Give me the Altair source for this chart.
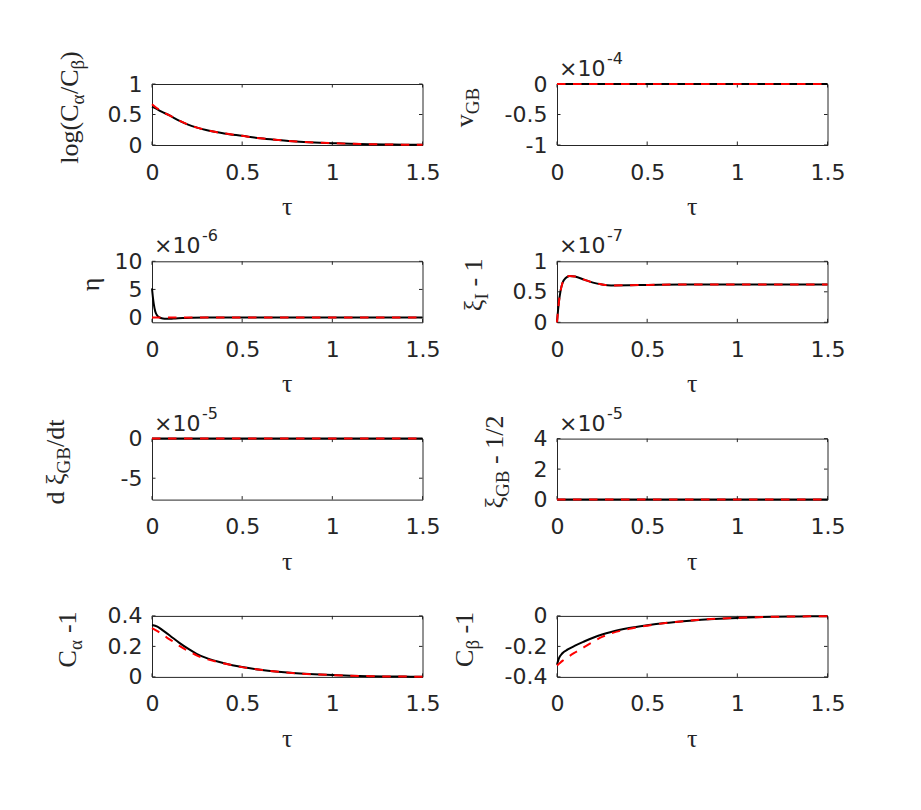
import altair as alt
import pandas as pd

# ---------------- data ----------------
x_ticks = [0, 0.5, 1, 1.5]

# panel 1: log(C_alpha / C_beta)
tau_p1 = [0, 0.02, 0.05, 0.1, 0.15, 0.2, 0.25, 0.3, 0.4, 0.5, 0.6, 0.7, 0.8, 0.9, 1.0, 1.1, 1.2, 1.3, 1.4, 1.5]
p1_black = [0.63, 0.60, 0.55, 0.48, 0.40, 0.335, 0.285, 0.245, 0.19, 0.15, 0.11, 0.082, 0.058, 0.042, 0.03, 0.02, 0.013, 0.008, 0.005, 0.003]
p1_red = [0.67, 0.62, 0.56, 0.48, 0.40, 0.335, 0.285, 0.245, 0.19, 0.15, 0.11, 0.082, 0.058, 0.042, 0.03, 0.02, 0.013, 0.008, 0.005, 0.003]

# panel 2: v_GB (x1e-4)
tau_p2 = [0, 1.5]
p2_black = [0, 0]
p2_red = [0, 0]

# panel 3: eta (x1e-6)
tau_p3 = [0, 0.005, 0.01, 0.018, 0.026, 0.04, 0.06, 0.08, 0.1, 0.13, 0.17, 0.22, 0.3, 0.5, 1.0, 1.5]
p3_black = [5.2, 3.6, 2.4, 1.1, 0.5, 0.05, -0.15, -0.2, -0.2, -0.15, -0.08, -0.03, 0, 0, 0, 0]
tau_p3r = [0, 1.5]
p3_red = [0, 0]

# panel 4: xi_I - 1 (x1e-7)
tau_p4 = [0, 0.01, 0.02, 0.03, 0.05, 0.07, 0.1, 0.15, 0.2, 0.25, 0.3, 0.4, 0.5, 0.7, 1.0, 1.5]
p4_black = [0, 0.32, 0.52, 0.64, 0.73, 0.76, 0.75, 0.70, 0.65, 0.62, 0.605, 0.607, 0.613, 0.62, 0.62, 0.62]
p4_red = [0, 0.32, 0.52, 0.64, 0.73, 0.76, 0.75, 0.70, 0.65, 0.62, 0.605, 0.607, 0.613, 0.62, 0.62, 0.62]

# panel 5: d xi_GB / dt (x1e-5)
tau_p5 = [0, 1.5]
p5_black = [0, 0]
p5_red = [0, 0]

# panel 6: xi_GB - 1/2 (x1e-5)
tau_p6 = [0, 1.5]
p6_black = [0, 0]
p6_red = [0, 0]

# panel 7: C_alpha - 1
tau_p7 = [0, 0.03, 0.06, 0.1, 0.15, 0.2, 0.25, 0.3, 0.4, 0.5, 0.6, 0.7, 0.8, 0.9, 1.0, 1.1, 1.2, 1.3, 1.4, 1.5]
p7_black = [0.34, 0.33, 0.305, 0.27, 0.225, 0.185, 0.15, 0.125, 0.09, 0.065, 0.047, 0.034, 0.024, 0.017, 0.012, 0.008, 0.005, 0.003, 0.002, 0.001]
p7_red = [0.32, 0.30, 0.275, 0.245, 0.205, 0.17, 0.14, 0.118, 0.088, 0.064, 0.047, 0.034, 0.024, 0.017, 0.012, 0.008, 0.005, 0.003, 0.002, 0.001]

# panel 8: C_beta - 1
tau_p8 = [0, 0.01, 0.03, 0.06, 0.1, 0.15, 0.2, 0.25, 0.3, 0.4, 0.5, 0.6, 0.7, 0.8, 0.9, 1.0, 1.1, 1.2, 1.3, 1.4, 1.5]
p8_black = [-0.32, -0.28, -0.245, -0.22, -0.195, -0.168, -0.143, -0.122, -0.105, -0.08, -0.062, -0.047, -0.035, -0.025, -0.018, -0.013, -0.009, -0.006, -0.004, -0.003, -0.002]
p8_red = [-0.325, -0.315, -0.295, -0.27, -0.24, -0.205, -0.17, -0.138, -0.115, -0.085, -0.064, -0.047, -0.035, -0.025, -0.018, -0.013, -0.009, -0.006, -0.004, -0.003, -0.002]

# y-axis label pieces: (text, is_subscript)
t1 = [("log(C", 0), ("α", 1), ("/C", 0), ("β", 1), (")", 0)]
t2 = [("v", 0), ("GB", 1)]
t3 = [("η", 0)]
t4 = [("ξ", 0), ("I", 1), (" - 1", 0)]
t5 = [("d ξ", 0), ("GB", 1), ("/dt", 0)]
t6 = [("ξ", 0), ("GB", 1), (" - 1/2", 0)]
t7 = [("C", 0), ("α", 1), (" -1", 0)]
t8 = [("C", 0), ("β", 1), (" -1", 0)]

# ---------------- style ----------------
INK = "#262626"
FONT_TICK = "DejaVu Sans"
FONT_TEX = "Liberation Serif"
W, H = 270.5, 61
TL = 3.5
TEX_SIZE, SUB_SIZE, SUB_DY = 26, 19, 6

WIDTHS = {'l': .278, 'o': .5, 'g': .5, '(': .333, ')': .333, 'C': .667, '/': .278,
          ' ': .25, 'v': .5, 'G': .722, 'B': .667, 'd': .5, 't': .278, '-': .333,
          '1': .5, '2': .5, 'I': .333, 'α': .55, 'β': .5, 'ξ': .45, 'η': .5}


def text_len(s, size):
    return sum(WIDTHS.get(c, 0.5) for c in s) * size


one = pd.DataFrame({"a": [0]})


def ytitle(pieces, xpos):
    total = sum(text_len(t, SUB_SIZE if sub else TEX_SIZE) for t, sub in pieces)
    y0 = H / 2 - 7 + total / 2
    layers = []
    acc = 0.0
    for t, sub in pieces:
        size = SUB_SIZE if sub else TEX_SIZE
        lead = len(t) - len(t.lstrip(" "))
        acc += lead * WIDTHS[' '] * size
        t = t.lstrip(" ")
        layers.append(
            alt.Chart(one).mark_text(angle=270, align="left", baseline="alphabetic",
                                     font=FONT_TEX, fontSize=size, color=INK,
                                     dx=acc, dy=SUB_DY if sub else 0)
            .encode(x=alt.value(xpos), y=alt.value(y0), text=alt.value(t))
        )
        acc += text_len(t, size)
    return layers


def exponent(expo):
    return [
        alt.Chart(one).mark_text(align="left", baseline="alphabetic", font=FONT_TICK,
                                 fontSize=22, color=INK)
        .encode(x=alt.value(2), y=alt.value(-8), text=alt.value("×10")),
        alt.Chart(one).mark_text(align="left", baseline="alphabetic", font=FONT_TICK,
                                 fontSize=16, color=INK)
        .encode(x=alt.value(50), y=alt.value(-20), text=alt.value(expo)),
    ]


def panel(tb, yb, tr, yr, ydom, yticks, title, title_x, expo=None, anchor=False):
    xs = alt.Scale(domain=[0, 1.5], nice=False, zero=False)
    ys = alt.Scale(domain=ydom, nice=False, zero=False)
    xax = alt.Axis(values=x_ticks, labelExpr="'' + datum.value", title=None)
    yax = alt.Axis(values=yticks, labelExpr="'' + datum.value", title=None)
    X = alt.X("tau:Q", scale=xs, axis=xax)
    Y = alt.Y("y:Q", scale=ys, axis=yax)

    black = alt.Chart(pd.DataFrame({"tau": tb, "y": yb})).mark_line(
        color="black", strokeWidth=2, interpolate="monotone").encode(x=X, y=Y)
    red = alt.Chart(pd.DataFrame({"tau": tr, "y": yr})).mark_line(
        color="red", strokeWidth=2, strokeDash=[8.5, 7.5], interpolate="monotone").encode(x=X, y=Y)

    xt = pd.DataFrame({"tau": x_ticks})
    yt = pd.DataFrame({"y": yticks})
    ticks = [
        alt.Chart(xt).mark_rule(color=INK, strokeWidth=1).encode(x=X, y=alt.value(H), y2=alt.value(H - TL)),
        alt.Chart(xt).mark_rule(color=INK, strokeWidth=1).encode(x=X, y=alt.value(0), y2=alt.value(TL)),
        alt.Chart(yt).mark_rule(color=INK, strokeWidth=1).encode(y=Y, x=alt.value(0), x2=alt.value(TL)),
        alt.Chart(yt).mark_rule(color=INK, strokeWidth=1).encode(y=Y, x=alt.value(W), x2=alt.value(W - TL)),
    ]
    xlabel = alt.Chart(one).mark_text(align="center", baseline="alphabetic", font=FONT_TEX,
                                      fontSize=26, color=INK).encode(
        x=alt.value(W / 2), y=alt.value(H + 70), text=alt.value("τ"))

    layers = ticks + [black, red, xlabel] + ytitle(title, title_x)
    if expo:
        layers += exponent(expo)
    if anchor:
        layers.append(alt.Chart(one).mark_rule(opacity=0, strokeWidth=0.01).encode(
            x=alt.value(-143.5), x2=alt.value(-143.5), y=alt.value(-75), y2=alt.value(-74)))
    return alt.layer(*layers).properties(width=W, height=H)


panels = [
    panel(tau_p1, p1_black, tau_p1, p1_red, [0, 1], [0, 0.5, 1], t1, -74, anchor=True),
    panel(tau_p2, p2_black, tau_p2, p2_red, [-1, 0], [-1, -0.5, 0], t2, -84, expo="-4"),
    panel(tau_p3, p3_black, tau_p3r, p3_red, [-0.84, 10], [0, 5, 10], t3, -53.5, expo="-6"),
    panel(tau_p4, p4_black, tau_p4, p4_red, [0, 1], [0, 0.5, 1], t4, -75, expo="-7"),
    panel(tau_p5, p5_black, tau_p5, p5_red, [-7.7, 0], [-5, 0], t5, -88.5, expo="-5"),
    panel(tau_p6, p6_black, tau_p6, p6_red, [0, 4], [0, 2, 4], t6, -54, expo="-5"),
    panel(tau_p7, p7_black, tau_p7, p7_red, [0, 0.4], [0, 0.2, 0.4], t7, -76.5),
    panel(tau_p8, p8_black, tau_p8, p8_red, [-0.4, 0], [-0.4, -0.2, 0], t8, -84),
]

chart = alt.concat(*panels, columns=2, spacing={"row": 116.3, "column": 134}, bounds="flush").properties(
    padding=0, background="white"
).configure_view(stroke=INK, strokeWidth=1).configure_axis(
    domain=False, ticks=False, tickSize=0, grid=False, labelFont=FONT_TICK, labelFontSize=22,
    labelColor=INK, labelFlush=False, labelOverlap=False, labelBound=False
).configure_axisX(labelPadding=17).configure_axisY(labelPadding=10)

chart.save("out.html", embed_options={"renderer": "svg", "actions": False})
